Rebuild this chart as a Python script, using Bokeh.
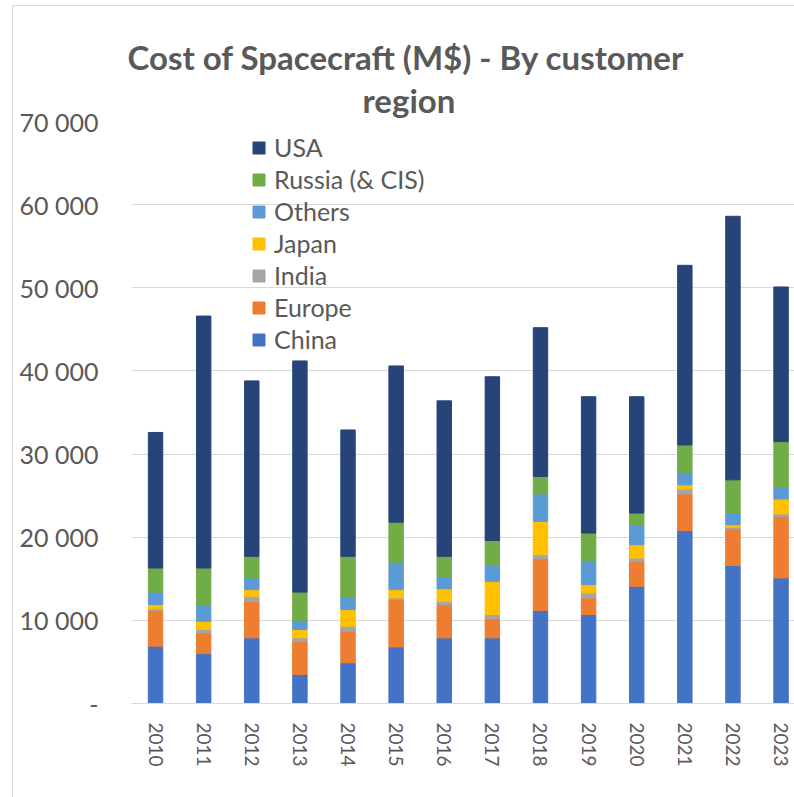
from bokeh.plotting import figure
from bokeh.models import (ColumnDataSource, Range1d, FixedTicker, Legend, LegendItem, Title)
from bokeh.embed import file_html
from bokeh.resources import INLINE

years = [2010, 2011, 2012, 2013, 2014, 2015, 2016, 2017, 2018, 2019, 2020, 2021, 2022, 2023]
china  = [6900, 6000, 7900, 3500, 4900, 6800, 7900, 7900, 11200, 10700, 14100, 20800, 16600, 15100]
europe = [4300, 2500, 4400, 4000, 3800, 5700, 4000, 2300, 6200, 2000, 3000, 4400, 4400, 7400]
india  = [200, 400, 600, 400, 600, 200, 400, 500, 500, 600, 400, 600, 200, 300]
japan  = [500, 1000, 800, 1000, 2000, 1000, 1500, 4000, 4000, 1000, 1600, 500, 300, 1800]
others = [1500, 2000, 1400, 1100, 1500, 3300, 1500, 2000, 3300, 2800, 2400, 1500, 1400, 1400]
russia = [2900, 4400, 2600, 3400, 4900, 4800, 2400, 2900, 2100, 3400, 1400, 3300, 4000, 5500]
usa    = [16300, 30300, 21100, 27800, 15200, 18800, 18700, 19700, 17900, 16400, 14000, 21600, 31700, 18600]

series_names = ["China", "Europe", "India", "Japan", "Others", "Russia (& CIS)", "USA"]
series_keys = ["china", "europe", "india", "japan", "others", "russia", "usa"]
colors = ["#4472C4", "#ED7D31", "#A5A5A5", "#FFC000", "#5B9BD5", "#70AD47", "#264478"]
y_ticks = [0, 10000, 20000, 30000, 40000, 50000, 60000, 70000]

title_line1 = "Cost of Spacecraft (M$) - By customer"
title_line2 = "region"

FONT = "Lato"
TXT = "#595959"

source = ColumnDataSource(dict(
    x=list(range(len(years))), china=china, europe=europe, india=india, japan=japan,
    others=others, russia=russia, usa=usa))

p = figure(width=782, height=792, output_backend="svg", toolbar_location=None,
           x_range=Range1d(-0.5, 13.3), y_range=Range1d(0, 70000),
           min_border_left=118, min_border_right=0, min_border_top=115, min_border_bottom=95)
p.margin = (5, 0, 0, 12)
p.styles = {"border-left": "1px solid #d9d9d9", "border-top": "1px solid #d9d9d9"}
p.outline_line_color = None
p.background_fill_color = "white"
p.border_fill_color = "white"

renderers = p.vbar_stack(series_keys, x="x", width=0.3, color=colors, source=source)

# axes
p.xaxis.ticker = FixedTicker(ticks=list(range(len(years))))
p.xaxis.major_label_overrides = {i: str(y) for i, y in enumerate(years)}
p.xaxis.major_label_orientation = "vertical"
p.xaxis.major_label_text_font = FONT
p.xaxis.major_label_text_font_size = "19px"
p.xaxis.major_label_text_color = TXT
p.xaxis.major_label_standoff = 13
p.xaxis.axis_line_color = "#d9d9d9"
p.xaxis.major_tick_line_color = None
p.xaxis.minor_tick_line_color = None

p.yaxis.ticker = FixedTicker(ticks=y_ticks)
p.yaxis.major_label_overrides = {t: ("-" if t == 0 else f"{t:,}".replace(",", " ")) for t in y_ticks}
p.yaxis.major_label_text_font = FONT
p.yaxis.major_label_text_font_size = "25px"
p.yaxis.major_label_text_color = TXT
p.yaxis.major_label_standoff = 27
p.yaxis.axis_line_color = None
p.yaxis.major_tick_line_color = None
p.yaxis.minor_tick_line_color = None

p.xgrid.grid_line_color = None
p.ygrid.ticker = FixedTicker(ticks=y_ticks)
p.ygrid.grid_line_color = "#d9d9d9"
p.ygrid.grid_line_width = 1

# legend (reverse order: USA on top)
items = [LegendItem(label=series_names[i], renderers=[renderers[i]]) for i in reversed(range(len(series_names)))]
legend = Legend(items=items, location=(120, 348), glyph_width=15, glyph_height=15,
                label_standoff=8, label_text_font=FONT, label_text_font_size="25px",
                label_text_color=TXT, label_height=32, spacing=0, padding=0, margin=0,
                border_line_alpha=0, background_fill_alpha=0)
p.add_layout(legend)

# two-line title (second line nearest the plot)
p.add_layout(Title(text=title_line2, align="left", offset=231, text_font=FONT,
                   text_font_size="33px", text_font_style="bold", text_color=TXT,
                   standoff=3), "above")
p.add_layout(Title(text=title_line1, align="left", offset=-4, text_font=FONT,
                   text_font_size="33px", text_font_style="bold", text_color=TXT,
                   standoff=0), "above")

open("out.html", "w").write(file_html(p, INLINE))
